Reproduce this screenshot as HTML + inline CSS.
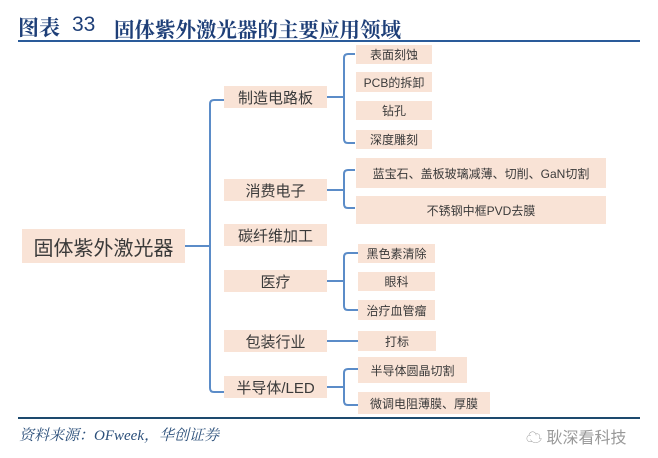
<!DOCTYPE html>
<html><head><meta charset="utf-8"><style>
body{margin:0;width:658px;height:458px;background:#fff;position:relative;overflow:hidden;font-family:"Liberation Sans","Noto Sans CJK SC",sans-serif}
.a{position:absolute}
.b{position:absolute;background:#f9e3d6;color:#3a3a3a;display:flex;align-items:center;justify-content:center;white-space:nowrap}
.l2{font-size:15px;left:224px;width:103px;height:22px}
.l3{font-size:12px;left:356px}
.t{font-family:"Liberation Serif","Noto Serif CJK SC",serif;font-weight:bold;color:#1e3f78;font-size:21px;top:12px;white-space:nowrap}
</style></head><body>
<div class="a t" style="left:18px">图表</div>
<div class="a t" style="left:72px;font-family:'Liberation Sans',sans-serif;font-weight:normal;top:13px">33</div>
<div class="a t" style="left:114px;font-size:20.5px;top:13px">固体紫外激光器的主要应用领域</div>
<div class="a" style="left:18px;top:40px;width:622px;height:2px;background:#2a5b9a"></div>

<svg class="a" style="left:0;top:0" width="658" height="458">
<g fill="none" stroke="#5b8cc8" stroke-width="2">
<path d="M185 246 H210"/>
<path d="M224 100 H214 Q210 100 210 104 V388 Q210 392 214 392 H224"/>
<path d="M327 97 H344"/>
<path d="M355 54 H348 Q344 54 344 58 V139 Q344 143 348 143 H355"/>
<path d="M327 190 H344"/>
<path d="M355 170 H348 Q344 170 344 174 V204 Q344 208 348 208 H355"/>
<path d="M327 281 H344"/>
<path d="M358 253 H348 Q344 253 344 257 V306 Q344 310 348 310 H358"/>
<path d="M327 341 H358"/>
<path d="M327 387 H344"/>
<path d="M358 369 H348 Q344 369 344 373 V401 Q344 405 348 405 H358"/>
</g></svg>

<div class="b" style="left:22px;top:229px;width:163px;height:34px;font-size:20px">固体紫外激光器</div>

<div class="b l2" style="top:86px">制造电路板</div>
<div class="b l2" style="top:179px">消费电子</div>
<div class="b l2" style="top:224px">碳纤维加工</div>
<div class="b l2" style="top:270px">医疗</div>
<div class="b l2" style="top:330px">包装行业</div>
<div class="b l2" style="top:376px">半导体/LED</div>

<div class="b l3" style="top:45px;width:76px;height:19px">表面刻蚀</div>
<div class="b l3" style="top:72px;width:76px;height:20px">PCB的拆卸</div>
<div class="b l3" style="top:101px;width:76px;height:19px">钻孔</div>
<div class="b l3" style="top:130px;width:76px;height:19px">深度雕刻</div>
<div class="b l3" style="top:158px;width:250px;height:30px">蓝宝石、盖板玻璃减薄、切削、GaN切割</div>
<div class="b l3" style="top:196px;width:250px;height:28px">不锈钢中框PVD去膜</div>
<div class="b l3" style="left:358px;top:244px;width:77px;height:19px">黑色素清除</div>
<div class="b l3" style="left:358px;top:272px;width:77px;height:19px">眼科</div>
<div class="b l3" style="left:358px;top:300px;width:77px;height:20px">治疗血管瘤</div>
<div class="b l3" style="left:358px;top:331px;width:78px;height:20px">打标</div>
<div class="b l3" style="left:358px;top:357px;width:109px;height:26px">半导体圆晶切割</div>
<div class="b l3" style="left:358px;top:392px;width:132px;height:22px">微调电阻薄膜、厚膜</div>

<div class="a" style="left:18px;top:417px;width:622px;height:2px;background:#1d4a6e"></div>
<div class="a" style="left:19px;top:424px;font-size:15px;font-style:italic;color:#2b4f7a;font-family:'Liberation Serif','Noto Serif CJK SC',serif;white-space:nowrap">资料来源：OFweek，华创证券</div>
<div class="a" style="left:526px;top:424px;font-size:16px;color:#999;white-space:nowrap">☁ 耿深看科技</div>
</body></html>
